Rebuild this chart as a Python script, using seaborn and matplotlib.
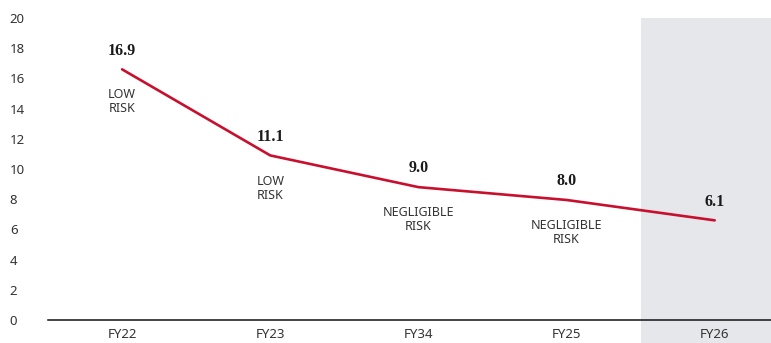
import matplotlib.pyplot as plt
import seaborn as sns
import pandas as pd

# Data
years = ['FY22', 'FY23', 'FY34', 'FY25', 'FY26']
scores = [16.6, 10.9, 8.8, 7.95, 6.6]          # where the line is drawn
score_labels = ['16.9', '11.1', '9.0', '8.0', '6.1']  # printed values
risk_labels = ['LOW\nRISK', 'LOW\nRISK', 'NEGLIGIBLE\nRISK', 'NEGLIGIBLE\nRISK', '']
y_ticks = list(range(0, 21, 2))

sns.set_style('white')
plt.rcParams['font.family'] = ['Noto Sans', 'DejaVu Sans']

df = pd.DataFrame({'year': years, 'score': scores})

fig = plt.figure(figsize=(7.71, 3.43), dpi=100)
ax = fig.add_axes([0.0623, 0.067, 0.9377, 0.8805])

text_col = '#333333'
red = '#c8102e'

# Shaded forecast column, running down over the tick labels
ax.axvspan(3.5, 4.5, ymin=-0.08, ymax=1.0, color='#e6e7eb', lw=0,
           clip_on=False, zorder=0)

sns.lineplot(data=df, x='year', y='score', color=red, linewidth=1.9,
             ax=ax, zorder=3)

for i, (v, lab, risk) in enumerate(zip(scores, score_labels, risk_labels)):
    ax.annotate(lab, (i, v), xytext=(0, 13.5), textcoords='offset points',
                ha='center', va='center', fontsize=11.5, fontweight='bold',
                family='Liberation Serif', color='#1a1a1a')
    if risk:
        ax.annotate(risk, (i, v), xytext=(0, -23.5), textcoords='offset points',
                    ha='center', va='center', fontsize=9, color=text_col,
                    linespacing=1.1)

ax.set_xlim(-0.5, 4.38)
ax.set_ylim(0, 20)
ax.set_yticks(y_ticks)
ax.set_xlabel('')
ax.set_ylabel('')

for s in ['top', 'right', 'left']:
    ax.spines[s].set_visible(False)
ax.spines['bottom'].set_color('#111111')
ax.spines['bottom'].set_linewidth(1.1)

ax.tick_params(axis='x', length=0, pad=6, labelsize=9.5, labelcolor=text_col)
ax.tick_params(axis='y', length=0, pad=27.5, labelsize=9.5, labelcolor=text_col)
for t in ax.get_yticklabels():
    t.set_horizontalalignment('left')

ax.grid(False)
ax.set_facecolor('none')

fig.savefig('out.png', dpi=100, facecolor='white')
